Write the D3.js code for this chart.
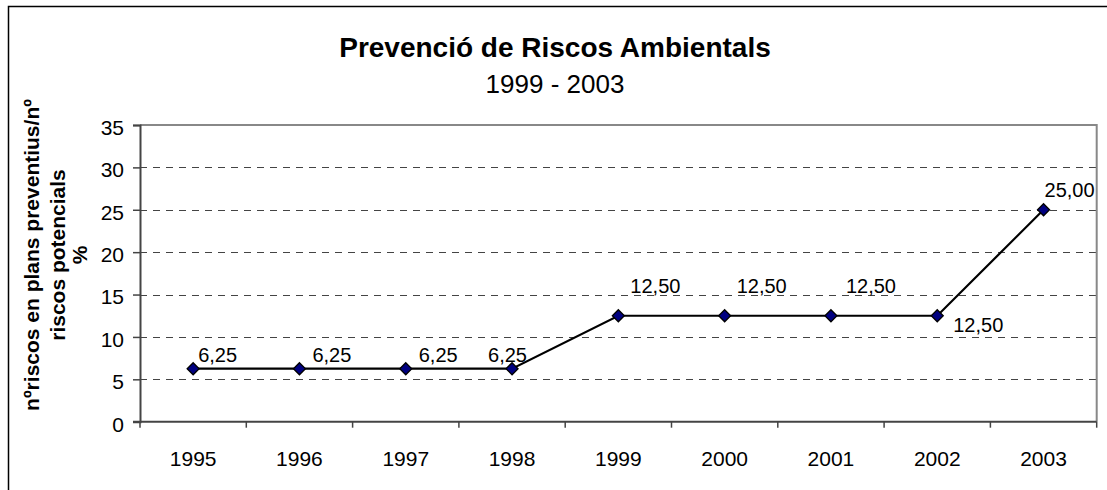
<!DOCTYPE html>
<html>
<head>
<meta charset="utf-8">
<script src="https://cdn.jsdelivr.net/npm/d3@7"></script>
<style>
  html, body { margin: 0; padding: 0; background: #fff; }
  svg { display: block; font-family: Arial, "Liberation Sans", sans-serif; }
</style>
</head>
<body>
<svg id="chart" width="1107" height="490"></svg>
<script>
// ---- data ----
const years = ["1995", "1996", "1997", "1998", "1999", "2000", "2001", "2002", "2003"];
const values = [6.25, 6.25, 6.25, 6.25, 12.5, 12.5, 12.5, 12.5, 25];
const valueLabels = ["6,25", "6,25", "6,25", "6,25", "12,50", "12,50", "12,50", "12,50", "25,00"];
const yTicks = [0, 5, 10, 15, 20, 25, 30, 35];
const titleText = "Prevenció de Riscos Ambientals";
const subtitleText = "1999 - 2003";
const yTitleLines = ["nºriscos en plans preventius/nº", "riscos potencials", "%"];

// label placement (styling, offsets from the point)
const labelDx = [5, 13, 13, -24, 12, 12, 15, 16, 1];
const labelDy = [-7, -7, -7, -7, -23, -23, -23, 16, -13];

// ---- layout ----
const W = 1107, H = 490;
const plot = { left: 140, right: 1096.7, top: 125, bottom: 421.7 };

const svg = d3.select("#chart");

// outer chart border (left and top visible)
svg.append("path")
  .attr("d", `M8.5,${H} L8.5,6.5 L${W},6.5`)
  .attr("fill", "none").attr("stroke", "#000").attr("stroke-width", 1.5);

const x = d3.scaleBand().domain(years).range([plot.left, plot.right]).paddingInner(0).paddingOuter(0);
const y = d3.scaleLinear().domain([0, 35]).range([plot.bottom, plot.top]);
const cx = d => x(d) + x.bandwidth() / 2;

// gridlines
svg.append("g").selectAll("line")
  .data(yTicks.filter(t => t > 0 && t < 35))
  .join("line")
  .attr("x1", plot.left).attr("x2", plot.right)
  .attr("y1", d => Math.round(y(d)) + 0.5).attr("y2", d => Math.round(y(d)) + 0.5)
  .attr("stroke", "#444").attr("stroke-width", 1)
  .attr("stroke-dasharray", "7,6");

// plot area border top & right (gray)
svg.append("path")
  .attr("d", `M${plot.left},${y(35)} L${plot.right},${y(35)} L${plot.right},${plot.bottom}`)
  .attr("fill", "none").attr("stroke", "#888").attr("stroke-width", 2);

// y axis
const yAxis = d3.axisLeft(y).tickValues(yTicks).tickSize(7).tickPadding(9).tickFormat(d3.format("d"));
const gy = svg.append("g").attr("transform", `translate(${plot.left},0)`).call(yAxis);
gy.select(".domain").attr("stroke", "#444").attr("stroke-width", 2);
gy.selectAll(".tick line").attr("stroke", "#444").attr("stroke-width", 1.5);
gy.selectAll(".tick text").attr("font-size", 21).attr("fill", "#000").attr("dy", "0.45em")
  .attr("font-family", "Arial, 'Liberation Sans', sans-serif");

// x axis with ticks between categories
const xEdges = years.map(d => x(d)).concat([plot.right]);
const gx = svg.append("g");
gx.append("line")
  .attr("x1", plot.left - 7).attr("x2", plot.right)
  .attr("y1", plot.bottom).attr("y2", plot.bottom)
  .attr("stroke", "#444").attr("stroke-width", 2);
gx.selectAll("line.tk").data(xEdges).join("line").attr("class", "tk")
  .attr("x1", d => d).attr("x2", d => d)
  .attr("y1", plot.bottom).attr("y2", plot.bottom + 6)
  .attr("stroke", "#444").attr("stroke-width", 1.5);
gx.selectAll("text").data(years).join("text")
  .attr("x", d => cx(d)).attr("y", plot.bottom + 44)
  .attr("text-anchor", "middle").attr("font-size", 21).attr("fill", "#000")
  .text(d => d);

// line
const pts = years.map((d, i) => ({ year: d, v: values[i], label: valueLabels[i], dx: labelDx[i], dy: labelDy[i] }));
svg.append("path")
  .datum(pts)
  .attr("d", d3.line().x(d => cx(d.year)).y(d => y(d.v)))
  .attr("fill", "none").attr("stroke", "#000").attr("stroke-width", 2.2);

// markers
svg.append("g").selectAll("path")
  .data(pts).join("path")
  .attr("transform", d => `translate(${cx(d.year)},${y(d.v)})`)
  .attr("d", "M0,-6 L6,0 L0,6 L-6,0 Z")
  .attr("fill", "#000080").attr("stroke", "#000").attr("stroke-width", 1.3);

// data labels
svg.append("g").selectAll("text")
  .data(pts).join("text")
  .attr("x", d => cx(d.year) + d.dx).attr("y", d => y(d.v) + d.dy)
  .attr("font-size", 20).attr("fill", "#000")
  .text(d => d.label);

// titles
svg.append("text").attr("x", 555).attr("y", 57)
  .attr("text-anchor", "middle").attr("font-size", 28).attr("font-weight", "bold")
  .text(titleText);
svg.append("text").attr("x", 555).attr("y", 93)
  .attr("text-anchor", "middle").attr("font-size", 26)
  .text(subtitleText);

// y axis title (rotated)
const yt = svg.append("text")
  .attr("transform", "translate(0,255) rotate(-90)")
  .attr("text-anchor", "middle").attr("font-size", 21).attr("font-weight", "bold");
const baselines = [39, 65, 87];
yTitleLines.forEach((t, i) => {
  yt.append("tspan").attr("x", 0).attr("y", baselines[i]).text(t);
});
</script>
</body>
</html>
